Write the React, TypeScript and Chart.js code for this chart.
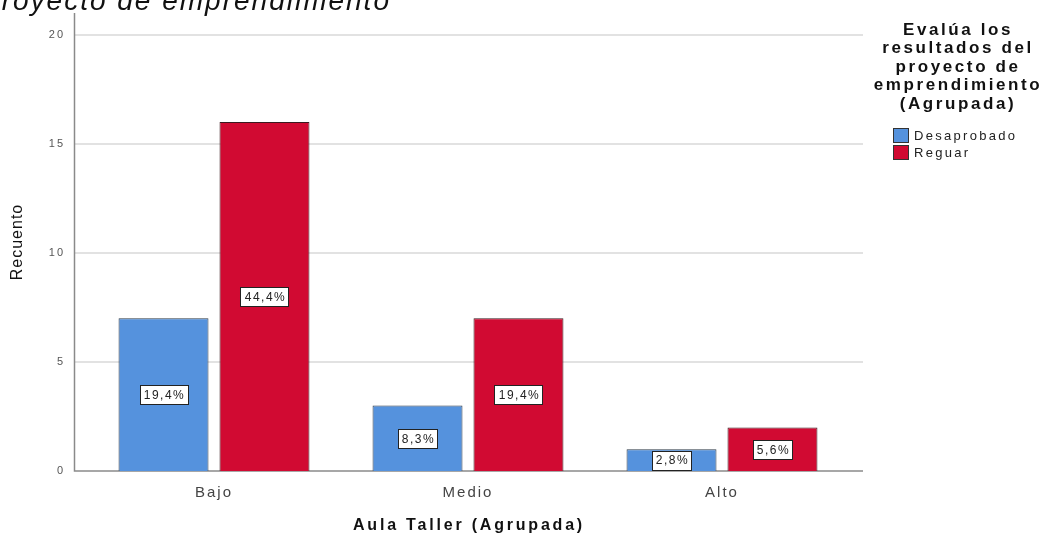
import React, { useEffect, useRef } from "react";
import { Chart, registerables } from "chart.js";

Chart.register(...registerables);

const categories = ["Bajo", "Medio", "Alto"];
const seriesNames = ["Desaprobado", "Reguar"];
const desaprobado = [7, 3, 1];
const reguar = [16, 7, 2];
const desaprobadoPct = ["19,4%", "8,3%", "2,8%"];
const reguarPct = ["44,4%", "19,4%", "5,6%"];
const yTicks = [0, 5, 10, 15, 20];
const legendTitle = ["Evalúa los", "resultados del", "proyecto de", "emprendimiento", "(Agrupada)"];
const xTitle = "Aula Taller (Agrupada)";
const yTitle = "Recuento";
const topText = "Proyecto de emprendimiento";

const BLUE = "#5592dd";
const RED = "#d10a32";

const decorPlugin = {
  id: "decor",
  beforeDraw(chart: any) {
    chart.ctx.letterSpacing = "2px";
  },
  beforeDatasetsDraw(chart: any) {
    const ctx = chart.ctx;
    const y = chart.scales.y;
    const area = chart.chartArea;
    ctx.save();
    ctx.strokeStyle = "#e2e2e2";
    ctx.lineWidth = 2;
    yTicks.forEach((v) => {
      if (v === 0) return;
      const py = Math.round(y.getPixelForValue(v));
      ctx.beginPath();
      ctx.moveTo(75, py);
      ctx.lineTo(863, py);
      ctx.stroke();
    });
    ctx.strokeStyle = "#8a8a8a";
    ctx.lineWidth = 1.5;
    const by = y.getPixelForValue(0);
    ctx.beginPath();
    ctx.moveTo(74.5, area.top);
    ctx.lineTo(74.5, by);
    ctx.lineTo(863, by);
    ctx.stroke();
    ctx.restore();
  },
  afterDatasetsDraw(chart: any) {
    const ctx = chart.ctx;
    const pcts = [desaprobadoPct, reguarPct];
    ctx.save();
    ctx.font = "12px Arial";
    ctx.letterSpacing = "1.5px";
    ctx.textAlign = "center";
    ctx.textBaseline = "middle";
    chart.data.datasets.forEach((ds: any, di: number) => {
      const meta = chart.getDatasetMeta(di);
      meta.data.forEach((bar: any, i: number) => {
        const cx = bar.x;
        const cy = (bar.y + bar.base) / 2;
        const txt = pcts[di][i];
        const w = Math.round(ctx.measureText(txt).width + 6);
        const h = 19;
        const bx = Math.round(cx - w / 2) + 0.5;
        const byy = Math.round(cy - h / 2) + 0.5;
        ctx.fillStyle = "#ffffff";
        ctx.fillRect(bx, byy, w, h);
        ctx.strokeStyle = "#222";
        ctx.lineWidth = 1;
        ctx.strokeRect(bx, byy, w, h);
        ctx.fillStyle = "#222";
        ctx.fillText(txt, cx + 1, cy + 1);
      });
    });
    ctx.restore();
  },
  afterDraw(chart: any) {
    const ctx = chart.ctx;
    const area = chart.chartArea;
    ctx.save();
    // top cut-off italic text
    ctx.font = "italic 28px Arial";
    ctx.letterSpacing = "2px";
    ctx.fillStyle = "#111";
    ctx.textAlign = "left";
    ctx.textBaseline = "alphabetic";
    ctx.fillText(topText, -19, 10);

    // y title
    ctx.save();
    ctx.translate(18, (area.top + area.bottom) / 2);
    ctx.rotate(-Math.PI / 2);
    ctx.font = "16px Arial";
    ctx.letterSpacing = "1px";
    ctx.textAlign = "center";
    ctx.textBaseline = "middle";
    ctx.fillStyle = "#111";
    ctx.fillText(yTitle, 0, 0);
    ctx.restore();

    // x title
    ctx.font = "bold 16px Arial";
    ctx.letterSpacing = "2.8px";
    ctx.textAlign = "center";
    ctx.textBaseline = "middle";
    ctx.fillStyle = "#111";
    ctx.fillText(xTitle, (area.left + area.right) / 2 + 1, 526);

    // legend title
    ctx.font = "bold 17px Arial";
    ctx.letterSpacing = "2.6px";
    legendTitle.forEach((line, i) => {
      ctx.fillText(line, 958, 30 + i * 18.5);
    });

    // legend items
    ctx.font = "13px Arial";
    ctx.letterSpacing = "2.3px";
    ctx.textAlign = "left";
    chart.data.datasets.forEach((ds: any, i: number) => {
      const y0 = 128 + i * 17;
      ctx.fillStyle = ds.backgroundColor;
      ctx.fillRect(893, y0, 16, 15);
      ctx.strokeStyle = "#333";
      ctx.lineWidth = 1;
      ctx.strokeRect(893.5, y0 + 0.5, 15, 14);
      ctx.fillStyle = "#222";
      ctx.fillText(ds.label, 914, y0 + 8);
    });
    ctx.restore();
  },
};

export default function App() {
  const ref = useRef<HTMLCanvasElement | null>(null);
  useEffect(() => {
    if (!ref.current) return;
    const chart = new Chart(ref.current, {
      type: "bar",
      data: {
        labels: categories,
        datasets: [
          {
            label: seriesNames[0],
            data: desaprobado,
            backgroundColor: BLUE,
            borderColor: "#2f3b48",
            borderWidth: 1,
            categoryPercentage: 0.795,
            barPercentage: 0.891,
          },
          {
            label: seriesNames[1],
            data: reguar,
            backgroundColor: RED,
            borderColor: "#3a1a1f",
            borderWidth: 1,
            categoryPercentage: 0.795,
            barPercentage: 0.891,
          },
        ],
      },
      options: {
        responsive: false,
        animation: false,
        layout: { padding: { top: 13, right: 196, left: 0, bottom: 0 } },
        plugins: {
          legend: { display: false },
          tooltip: { enabled: false },
          title: { display: false },
        },
        scales: {
          x: {
            grid: { display: false },
            border: { display: false },
            ticks: {
              font: { family: "Arial", size: 15 },
              color: "#444",
              padding: 5,
            },
            afterFit: (s: any) => {
              s.height = 64;
              s.paddingLeft = 0;
              s.paddingRight = 0;
              s.paddingTop = 0;
              s.paddingBottom = 0;
            },
          },
          y: {
            min: 0,
            max: 21,
            grid: { display: false, drawTicks: false },
            border: { display: false },
            ticks: {
              stepSize: 5,
              padding: 22,
              font: { family: "Arial", size: 11 },
              color: "#555",
            },
            afterBuildTicks: (s: any) => {
              s.ticks = yTicks.map((v) => ({ value: v }));
            },
            afterFit: (s: any) => {
              s.width = 87;
              s.paddingTop = 0;
              s.paddingBottom = 0;
              s.paddingLeft = 0;
              s.paddingRight = 0;
            },
          },
        },
      },
      plugins: [decorPlugin],
    });
    return () => chart.destroy();
  }, []);
  return (
    <div style={{ position: "fixed", left: 0, top: 0, width: 1045, height: 535, background: "#fff" }}>
      <canvas ref={ref} width={1045} height={535} style={{ display: "block" }} />
    </div>
  );
}
